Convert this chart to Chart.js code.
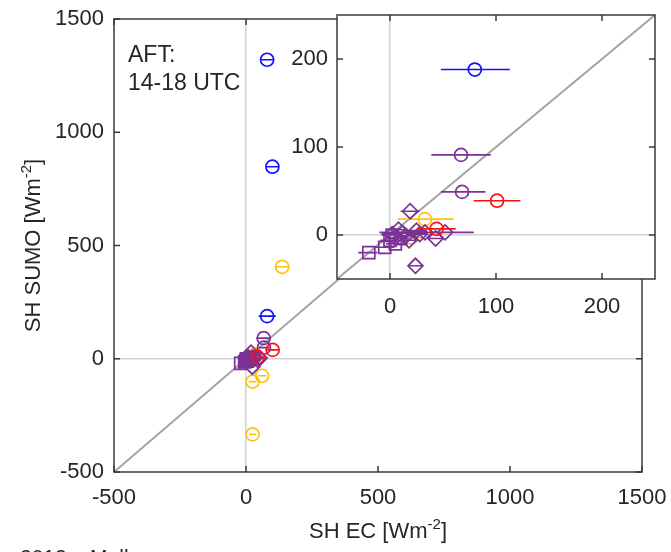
<!DOCTYPE html>
<html>
<head>
<meta charset="utf-8">
<script src="https://cdn.jsdelivr.net/npm/chart.js@4.4.1/dist/chart.umd.min.js"></script>
<style>
  html, body { margin: 0; padding: 0; background: #fff; }
  #wrap { position: relative; width: 671px; height: 552px; overflow: hidden; }
  #wrap canvas { position: absolute; left: 0; top: 0; }
  #caption { position: absolute; left: 20px; top: 545px; font: 21px "Liberation Sans", Arial, sans-serif; color: #262626; white-space: pre; }
</style>
</head>
<body>
<div id="wrap">
  <canvas id="mainChart" width="671" height="552"></canvas>
  <canvas id="insetChart" width="671" height="552"></canvas>
  <div id="caption">2012.   Mell</div>
</div>
<script>
// sensible heat, EC vs SUMO, afternoon window (W m-2)
const blueEC = [80, 100, 80];
const blueSUMO = [1320, 848, 188];
const blueLo = [55, 76, 48];
const blueHi = [105, 124, 113];

const redEC = [101, 44];
const redSUMO = [39, 7];
const redLo = [79, 26];
const redHi = [123, 62];

const yellowEC = [137, 61, 25, 25, 33, 20];
const yellowSUMO = [406, -75, -101, -334, 18, -3];
const yellowLo = [110, 45, 10, 12, 7, 8];
const yellowHi = [164, 78, 40, 38, 60, 32];

const purpleCircEC = [67, 68];
const purpleCircSUMO = [91, 49];
const purpleCircLo = [39, 48];
const purpleCircHi = [95, 90];

const purpleDiamEC = [19, 24, 33, 43, 52, 12, 5, 25, 15, 8, 2, 18, 28];
const purpleDiamSUMO = [27, -35, 3, -4, 3, 2, -3, 5, -1, 6, 1, -6, 1];
const purpleDiamLo = [10, 17, -10, 36, 45, 2, -4, 15, 5, 0, -8, 10, 20];
const purpleDiamHi = [28, 31, 79, 50, 59, 22, 14, 35, 25, 16, 12, 26, 36];

const purpleSqEC = [-20, -5, 5, 10, 2, 0];
const purpleSqSUMO = [-20, -14, -10, -4, 0, -6];
const purpleSqLo = [-30, -15, -4, 2, -8, -9];
const purpleSqHi = [-12, 4, 14, 18, 12, 9];

const mainLimits = [-500, 1500];
const mainTicks = [-500, 0, 500, 1000, 1500];
const insetLimits = [-50, 250];
const insetTicks = [0, 100, 200];

const ink = '#262626';
const fontFamily = '"Liberation Sans", Arial, sans-serif';

function series(xs, ys, lo, hi, color, style, radius) {
  return {
    type: 'scatter',
    data: xs.map((v, i) => ({ x: v, y: ys[i] })),
    errLo: lo,
    errHi: hi,
    pointStyle: style,
    pointRadius: radius,
    pointHoverRadius: radius,
    pointBorderWidth: 1.7,
    borderColor: color,
    backgroundColor: 'rgba(0,0,0,0)'
  };
}

function buildDatasets(lim) {
  // first entry ends up on top
  return [
    series(blueEC, blueSUMO, blueLo, blueHi, '#1010ff', 'circle', 6.5),
    series(redEC, redSUMO, redLo, redHi, '#ff1010', 'circle', 6.5),
    series(purpleCircEC, purpleCircSUMO, purpleCircLo, purpleCircHi, '#7a3294', 'circle', 6.5),
    series(purpleDiamEC, purpleDiamSUMO, purpleDiamLo, purpleDiamHi, '#7a3294', 'rectRot', 7.5),
    series(purpleSqEC, purpleSqSUMO, purpleSqLo, purpleSqHi, '#7a3294', 'rect', 8.5),
    series(yellowEC, yellowSUMO, yellowLo, yellowHi, '#ffc20e', 'circle', 6.5),
    {
      type: 'line',
      data: [{ x: lim[0], y: lim[0] }, { x: lim[1], y: lim[1] }],
      borderColor: '#a3a3a3',
      borderWidth: 2,
      pointRadius: 0
    }
  ];
}

// horizontal error bars on the EC axis
const errorBars = {
  id: 'errorBars',
  afterDatasetDraw(chart, args) {
    const ds = chart.data.datasets[args.index];
    if (!ds.errLo) return;
    const { ctx, chartArea: a, scales: { x, y } } = chart;
    ctx.save();
    ctx.beginPath();
    ctx.rect(a.left, a.top, a.right - a.left, a.bottom - a.top);
    ctx.clip();
    ctx.strokeStyle = ds.borderColor;
    ctx.lineWidth = 1.6;
    ctx.beginPath();
    ds.data.forEach((p, i) => {
      const py = y.getPixelForValue(p.y);
      ctx.moveTo(x.getPixelForValue(ds.errLo[i]), py);
      ctx.lineTo(x.getPixelForValue(ds.errHi[i]), py);
    });
    ctx.stroke();
    ctx.restore();
  }
};

// white axes background, box and inward tick marks
const axesBox = {
  id: 'axesBox',
  beforeDraw(chart, args, opts) {
    if (!opts.fill) return;
    const { ctx, chartArea: a } = chart;
    ctx.save();
    ctx.fillStyle = '#fff';
    ctx.fillRect(a.left, a.top, a.right - a.left, a.bottom - a.top);
    ctx.restore();
  },
  afterDatasetsDraw(chart) {
    const { ctx, chartArea: a, scales: { x, y } } = chart;
    const len = 6;
    ctx.save();
    ctx.strokeStyle = '#3a3a3a';
    ctx.lineWidth = 1.5;
    ctx.strokeRect(a.left, a.top, a.right - a.left, a.bottom - a.top);
    ctx.beginPath();
    x.ticks.forEach(t => {
      const px = x.getPixelForValue(t.value);
      ctx.moveTo(px, a.bottom); ctx.lineTo(px, a.bottom - len);
      ctx.moveTo(px, a.top); ctx.lineTo(px, a.top + len);
    });
    y.ticks.forEach(t => {
      const py = y.getPixelForValue(t.value);
      ctx.moveTo(a.left, py); ctx.lineTo(a.left + len, py);
      ctx.moveTo(a.right, py); ctx.lineTo(a.right - len, py);
    });
    ctx.stroke();
    ctx.restore();
  }
};

function supText(ctx, base, sup, tail, cx, baseline, size) {
  ctx.font = size + 'px ' + fontFamily;
  const wBase = ctx.measureText(base).width;
  const wTail = ctx.measureText(tail).width;
  ctx.font = Math.round(size * 0.66) + 'px ' + fontFamily;
  const wSup = ctx.measureText(sup).width;
  let x = cx - (wBase + wSup + wTail) / 2;
  ctx.textAlign = 'left';
  ctx.textBaseline = 'alphabetic';
  ctx.font = size + 'px ' + fontFamily;
  ctx.fillText(base, x, baseline);
  x += wBase;
  ctx.font = Math.round(size * 0.66) + 'px ' + fontFamily;
  ctx.fillText(sup, x, baseline - size * 0.42);
  x += wSup;
  ctx.font = size + 'px ' + fontFamily;
  ctx.fillText(tail, x, baseline);
}

const labels = {
  id: 'labels',
  afterDraw(chart) {
    const { ctx, chartArea: a } = chart;
    ctx.save();
    ctx.fillStyle = ink;
    ctx.font = '23px ' + fontFamily;
    ctx.textAlign = 'left';
    ctx.textBaseline = 'alphabetic';
    ctx.fillText('AFT:', 128, 62);
    ctx.fillText('14-18 UTC', 128, 90);
    supText(ctx, 'SH EC [Wm', '-2', ']', (a.left + a.right) / 2, 538, 22);
    ctx.translate(40, (a.top + a.bottom) / 2);
    ctx.rotate(-Math.PI / 2);
    supText(ctx, 'SH SUMO [Wm', '-2', ']', 0, 0, 22);
    ctx.restore();
  }
};

function axis(lim, ticks, fitSize, horizontal, pad) {
  return {
    type: 'linear',
    min: lim[0],
    max: lim[1],
    afterBuildTicks: s => { s.ticks = ticks.map(v => ({ value: v })); },
    afterFit: s => {
      if (horizontal) {
        s.height = fitSize;
        s.paddingLeft = 0;
        s.paddingRight = 0;
      } else {
        s.width = fitSize;
        s.paddingTop = 0;
        s.paddingBottom = 0;
      }
    },
    grid: {
      drawTicks: false,
      lineWidth: 1.5,
      color: c => (c.tick && c.tick.value === 0 ? '#d2d2d2' : 'rgba(0,0,0,0)')
    },
    border: { display: false },
    ticks: {
      padding: pad,
      color: ink,
      autoSkip: false,
      maxRotation: 0,
      callback: v => String(v),
      font: { family: fontFamily, size: 22 }
    }
  };
}

function makeChart(id, lim, ticks, padding, yWidth, xHeight, xPad, yPad, extra, fill) {
  return new Chart(document.getElementById(id), {
    type: 'scatter',
    data: { datasets: buildDatasets(lim) },
    options: {
      responsive: false,
      animation: false,
      events: [],
      layout: { padding: padding },
      scales: {
        x: axis(lim, ticks, xHeight, true, xPad),
        y: axis(lim, ticks, yWidth, false, yPad)
      },
      plugins: {
        legend: { display: false },
        tooltip: { enabled: false },
        axesBox: { fill: fill }
      }
    },
    plugins: [axesBox, errorBars].concat(extra)
  });
}

makeChart('mainChart', mainLimits, mainTicks, { left: 0, top: 19, right: 29, bottom: 0 }, 114, 80, 13, 10, [labels], false);
makeChart('insetChart', insetLimits, insetTicks, { left: 0, top: 15, right: 16, bottom: 0 }, 337, 273, 15, 9, [], true);
</script>
</body>
</html>
